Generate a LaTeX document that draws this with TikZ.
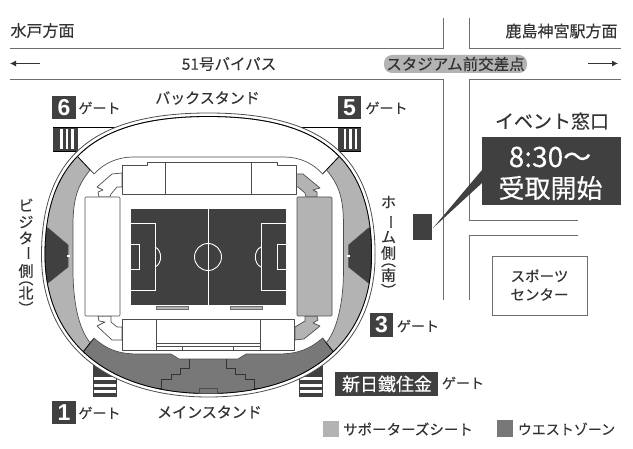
\documentclass[tikz,border=0pt]{standalone}
\usepackage{fontspec}
\usetikzlibrary{arrows.meta}
\newfontfamily\gothic[FakeBold=0.3]{Noto Sans CJK JP}
\newfontfamily\digitfont{Liberation Sans}
\newcommand\jpf[1]{\gothic\fontsize{#1}{#1}\selectfont}
\newcommand\vrot[1]{\rotatebox[origin=c]{-90}{#1}}
\definecolor{ink}{HTML}{333333}
\definecolor{dark}{HTML}{404040}
\definecolor{seatgray}{HTML}{B3B3B3}
\definecolor{westgray}{HTML}{787878}
\definecolor{roadline}{HTML}{6E6E6E}
\definecolor{thin}{HTML}{4D4D4D}
\newcommand\outerpath{(208.3,113) .. controls (93.2,113) and (41.5,157) .. (41.5,255) .. controls (41.5,343) and (105,397) .. (208.3,397) .. controls (311.6,397) and (375.1,343) .. (375.1,255) .. controls (375.1,157) and (323.4,113) .. (208.3,113) -- cycle}
\newcommand\insetpath{(208.3,116.5) .. controls (95.6,116.5) and (45,159.4) .. (45,255) .. controls (45,340.9) and (107,393.5) .. (208.3,393.5) .. controls (309.6,393.5) and (371.6,340.9) .. (371.6,255) .. controls (371.6,159.4) and (321,116.5) .. (208.3,116.5) -- cycle}
\tikzset{
  txt/.style={inner sep=0,outer sep=0,text=ink},
  road/.style={draw=roadline,line width=0.9pt},
  struct/.style={draw=thin,line width=0.7pt,line join=round},
  gatebox/.style={fill=dark},
  gatenum/.style={inner sep=0,text=white,font=\digitfont\bfseries\fontsize{23}{23}\selectfont},
  pitch/.style={draw=white,line width=0.9pt},
  vert/.style={txt,font=\jpf{15}}
}
\begin{document}
\begin{tikzpicture}[x=1pt,y=-1pt]
\useasboundingbox (0,0) rectangle (633,449);
\fill[white] (0,0) rectangle (633,449);
% roads
\draw[road] (10,48) -- (443,48) -- (443,18);
\draw[road] (621,48) -- (469,48) -- (469,18);
\draw[road] (10,79) -- (443,79) -- (443,300);
\draw[road] (621,79) -- (469,79) -- (469,220) -- (578,220);
\draw[road] (578,235) -- (469,235) -- (469,300);
\node[txt,font=\jpf{16}] (mito) at (42.5,30.5) {水戸方面};
\node[txt,font=\jpf{16}] (kashima) at (561.5,31) {鹿島神宮駅方面};
\node[txt,font=\jpf{15.5}] (bypass) at (229,64) {51号バイパス};
\coordinate (al1) at (40,63.5); \coordinate (al2) at (10,63.5);
\coordinate (ar1) at (588,63.5); \coordinate (ar2) at (618,63.5);
\draw[ink,line width=0.8pt,-{Latex[length=6pt,width=6pt]}] (al1) -- (al2);
\draw[ink,line width=0.8pt,-{Latex[length=6pt,width=6pt]}] (ar1) -- (ar2);
\fill[seatgray,rounded corners=8pt] (384,55) rectangle (527,73);
\node[txt,font=\jpf{15.5}] (cross) at (455.5,64) {スタジアム前交差点};
% event window
\node[txt,font=\jpf{19}] (event) at (552,121) {イベント窓口};
\fill[dark] (482,137) rectangle (621,205);
\fill[dark] (482,170) -- (433,228) -- (482,183) -- cycle;
\fill[dark] (413,214) rectangle (432,240);
\node[inner sep=0,text=white,font=\jpf{28}] (time) at (550,157) {8:30〜};
\node[inner sep=0,text=white,font=\jpf{26}] (recv) at (550.5,188) {受取開始};
% sports center
\draw[draw=roadline,line width=0.9pt] (492,256) rectangle (587,315);
\node[txt,align=center,font=\jpf{14.5}] (sports) at (539.5,285) {スポーツ\\[4pt]センター};
% gate stairs
\fill[dark] (53,127) rectangle (78,151);
\foreach \x in {60,65.5,71}{\fill[white] (\x,129) rectangle (\x+2.6,149);}
\draw[thin,line width=0.8pt] (53,127) -- (125,127) (53,151) -- (95,151);
\fill[dark] (338,127) rectangle (361,151);
\foreach \x in {343.5,349,354.5}{\fill[white] (\x,129) rectangle (\x+2.6,149);}
\draw[thin,line width=0.8pt] (361,127) -- (295,127) (361,151) -- (325,151);
\fill[dark] (93,360) rectangle (117,397.5);
\foreach \y in {377.5,384,390.5}{\fill[white] (94.2,\y) rectangle (115.8,\y+3);}
\fill[dark] (299,360) rectangle (323,397.5);
\foreach \y in {377.5,384,390.5}{\fill[white] (300.2,\y) rectangle (321.8,\y+3);}
% stadium shell
\filldraw[fill=white,draw=thin,line width=0.8pt] \outerpath;
\filldraw[fill=white,draw=thin,line width=0.8pt] \insetpath;
\begin{scope}
  \clip \insetpath;
  \fill[seatgray] (69,147) -- (97,177) -- (97,335) -- (72,364) -- (0,364) -- (0,147) -- cycle;
  \fill[seatgray] (347.6,147) -- (319.6,177) -- (319.6,335) -- (344.6,364) -- (420,364) -- (420,147) -- cycle;
  \fill[westgray] (72,364) -- (97,335) -- (319.6,335) -- (344.6,364) -- (344.6,400) -- (72,400) -- cycle;
  \filldraw[fill=dark,draw=thin,line width=0.6pt] (48,228) -- (68,245) -- (68,267) -- (48,283) -- (38,283) -- (38,228) -- cycle;
  \filldraw[fill=dark,draw=thin,line width=0.6pt] (368.6,228) -- (348.6,245) -- (348.6,267) -- (368.6,283) -- (378,283) -- (378,228) -- cycle;
  \draw[thin,line width=0.8pt] (78,157) -- (94,174) (80,356) -- (94,338) (338.6,157) -- (322.6,174) (336.6,356) -- (322.6,338);
  % stairs in west zone
  \draw[ink,line width=0.8pt] (189,359) -- (189,368) -- (180,368) -- (180,374) -- (171,374) -- (171,379) -- (161,379) -- (161,388) -- (152,388);
  \draw[ink,line width=0.8pt] (226,359) -- (226,368) -- (235,368) -- (235,374) -- (245,374) -- (245,379) -- (254,379) -- (254,388) -- (264,388);
\end{scope}
\draw[thin,line width=0.8pt] \insetpath;
\fill[white] (66.5,255.4) rectangle (70,256.8);
\fill[white] (346.6,255.4) rectangle (350,256.8);
\filldraw[fill=westgray,draw=thin,line width=0.6pt] (199,388) rectangle (217,393);
% bowl
\filldraw[fill=white,struct] (94,174) .. controls (104,163) and (118,157) .. (133,157) -- (284,157) .. controls (299,157) and (313,163) .. (322.6,174) -- (326.6,170) .. controls (338,184) and (343.5,196) .. (343.5,225) -- (343.5,270) .. controls (343.5,300) and (338,328) .. (326.6,342.5) -- (322.6,338) .. controls (310,349) and (298,354) .. (278,354) -- (246,354) -- (238,359) -- (179,359) -- (171,354) -- (138,354) .. controls (118,354) and (106,349) .. (94,338) -- (90,342.5) .. controls (78,328) and (73,300) .. (73,270) -- (73,225) .. controls (73,196) and (79,184) .. (90,170) -- cycle;
% corner passages
\filldraw[fill=white,struct] (122,173) -- (112,174) -- (97,187) -- (103,190) -- (98,192) -- (99,197) -- (110,197) -- (111,194) -- (117,187) -- (122,187) -- cycle;
\filldraw[fill=seatgray,struct] (295,174) -- (303,174) -- (320,188) -- (313,190) -- (317,192) -- (317,197) -- (306,197) -- (305,193) -- (298,187) -- (295,187) -- cycle;
\filldraw[fill=white,struct] (98,316) -- (99,321) -- (105,322) -- (97,326) -- (112,340) -- (122,340) -- (122,327) -- (117,327) -- (111,322) -- (111,316) -- cycle;
\filldraw[fill=seatgray,struct] (305,316) -- (305,321) -- (295,327) -- (295,340) -- (304,339) -- (320,326) -- (313,323) -- (318,320) -- (317,316) -- cycle;
% stands
\filldraw[fill=white,struct] (122,165) -- (147,165) -- (147,162) -- (277,162) -- (277,165) -- (296,165) -- (296,194) -- (122,194) -- cycle;
\draw[struct] (165,162) -- (165,194) (251,162) -- (251,194);
\filldraw[fill=white,struct] (122,319) rectangle (294,350);
\draw[struct] (156,319) -- (156,350) (260,319) -- (260,350) (156,343) -- (260,343) (156,346) -- (260,346) (182.5,346) -- (182.5,350) (233.5,346) -- (233.5,350);
\filldraw[fill=white,struct,rounded corners=1pt] (85,197) rectangle (120,316);
\filldraw[fill=seatgray,struct,rounded corners=1pt] (297,197) rectangle (332,316);
% pitch
\fill[dark] (131,209) rectangle (286,305);
\draw[pitch] (208,209) -- (208,305);
\draw[pitch] (208,257) circle[radius=13.5];
\draw[pitch] (131,223) -- (155,223) -- (155,290) -- (131,290);
\draw[pitch] (131,244) -- (139,244) -- (139,269) -- (131,269);
\draw[pitch] (286,223) -- (261,223) -- (261,290) -- (286,290);
\draw[pitch] (286,244) -- (277,244) -- (277,269) -- (286,269);
\draw[pitch] (155,247) .. controls (162.5,250) and (162.5,264) .. (155,267);
\draw[pitch] (261,247) .. controls (253.5,250) and (253.5,264) .. (261,267);
\filldraw[fill=seatgray,draw=roadline,line width=0.5pt] (156,306) rectangle (188,309);
\filldraw[fill=seatgray,draw=roadline,line width=0.5pt] (230,306) rectangle (262,309);
% gate labels
\fill[gatebox] (52,96) rectangle (76,119);
\node[gatenum] (g6) at (64,108) {6};
\node[txt,font=\jpf{14}] (g6t) at (99.5,108) {ゲート};
\fill[gatebox] (338,96) rectangle (361,119);
\node[gatenum] (g5) at (349.5,108) {5};
\node[txt,font=\jpf{14}] (g5t) at (386.5,108) {ゲート};
\fill[gatebox] (370,313) rectangle (393,337);
\node[gatenum] (g3) at (381.5,325) {3};
\node[txt,font=\jpf{14}] (g3t) at (418,326) {ゲート};
\fill[gatebox] (52,401) rectangle (76,424);
\node[gatenum] (g1) at (64,412.5) {1};
\node[txt,font=\jpf{14}] (g1t) at (99.5,413) {ゲート};
\fill[gatebox] (335,372) rectangle (438,396);
\node[inner sep=0,text=white,font=\jpf{18}] (sponsor) at (387,384) {新日鐵住金};
\node[txt,font=\jpf{14}] (gst) at (463,383) {ゲート};
% stand labels
\node[txt,font=\jpf{15}] (back) at (207.5,98) {バックスタンド};
\node[txt,font=\jpf{15}] (main) at (209.5,412) {メインスタンド};
\foreach \c/\y [count=\i] in {ホ/202,\vrot{ー}/222,ム/237,側/253,\vrot{（}/260.5,南/275,\vrot{）}/290.5}
  \node[vert] (home\i) at (388.5,\y) {\c};
\foreach \c/\y [count=\i] in {ビ/205,ジ/222,タ/238,\vrot{ー}/253,側/271,\vrot{（}/278.5,北/293,\vrot{）}/308.5}
  \node[vert] (visitor\i) at (26,\y) {\c};
% legend
\fill[seatgray] (323,421) rectangle (339,437);
\node[txt,font=\jpf{14.5}] (lsup) at (408,429) {サポーターズシート};
\fill[westgray] (497,420) rectangle (513,437);
\node[txt,font=\jpf{14}] (lwest) at (566.5,429) {ウエストゾーン};
\end{tikzpicture}
\end{document}
